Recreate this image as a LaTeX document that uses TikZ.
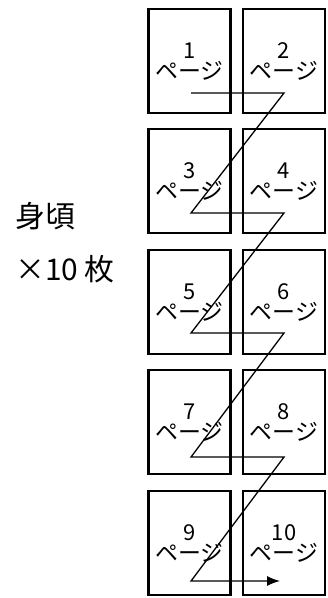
\documentclass[tikz,border=0pt]{standalone}
\usepackage{fontspec}
\setmainfont{Noto Sans CJK JP}
\usetikzlibrary{positioning,arrows.meta}

\begin{document}
\begin{tikzpicture}[x=1bp,y=-1bp]
  \tikzstyle{every node}+=[inner sep=0pt]
  \tikzstyle{pagebox}=[draw, line width=2.8bp, minimum width=82bp, minimum height=104bp]
  \tikzstyle{kana}=[font=\fontsize{23}{23}\selectfont]
  \tikzstyle{num}=[font=\fontsize{22}{22}\selectfont]
  \tikzstyle{label}=[anchor=west, font=\fontsize{30}{30}\selectfont]
  \tikzstyle{zig}=[line width=1.3bp]
  \useasboundingbox (0,0) rectangle (327,598);
  % left caption
  \node[label] (title) at (15,216) {身頃};
  \node[label] (count) at (15,269) {×10 枚};
  % pages, two per row
  \foreach \r/\y/\a/\b/\z in {1/61/1/2/93, 2/181/3/4/213, 3/302/5/6/333, 4/422/7/8/457, 5/543/9/10/581} {
    \node[pagebox] (p\a) at (189.5,\y) {};
    \node[pagebox] (p\b) at (284,\y) {};
    \node[kana] (k\a) at (189.5,\y+10) {ページ};
    \node[kana] (k\b) at (284,\y+10) {ページ};
    \node[num, above=2.5bp of k\a] (n\a) {\a};
    \node[num, above=2.5bp of k\b] (n\b) {\b};
    \coordinate (z\r l) at (191,\z);
    \coordinate (z\r r) at (284,\z);
  }
  \coordinate (zend) at (280,581);
  % reading order
  \draw[zig, -{Latex[length=13bp,width=10bp]}]
    (z1l) -- (z1r) -- (z2l) -- (z2r) -- (z3l) -- (z3r) -- (z4l) -- (z4r) -- (z5l) -- (zend);
\end{tikzpicture}
\end{document}
